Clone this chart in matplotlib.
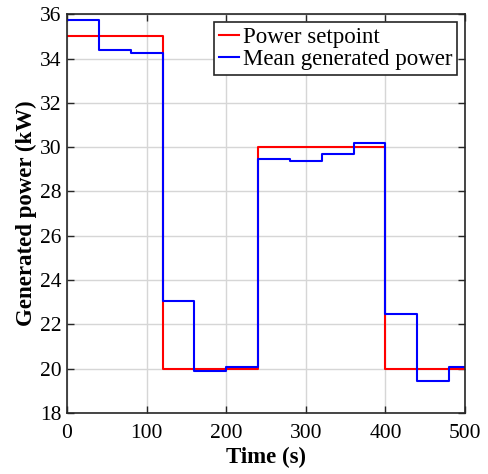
import numpy as np
import matplotlib
matplotlib.use("Agg")
import matplotlib.pyplot as plt

# Setpoint (step changes)
setpoint_t = [0, 120, 240, 400, 500]
setpoint_p = [35, 20, 30, 20, 20]

# Mean generated power over 40 s windows
mean_t = [0, 40, 80, 120, 160, 200, 240, 280, 320, 360, 400, 440, 480, 500]
mean_p = [35.75, 34.4, 34.25, 23.05, 19.88, 20.09, 29.45, 29.37, 29.67, 30.17,
          22.48, 19.45, 20.05, 20.05]

plt.rcParams['font.family'] = ['Liberation Serif', 'DejaVu Serif']

fig = plt.figure(figsize=(4.89, 4.74), dpi=100)
ax = fig.add_axes([0.137, 0.129, 0.814, 0.841])

ax.step(setpoint_t, setpoint_p, where='post', color='#ff0000', lw=1.5,
        label='Power setpoint')
ax.step(mean_t, mean_p, where='post', color='#0000ff', lw=1.5,
        label='Mean generated power')

ax.set_xlim(0, 500)
ax.set_ylim(18, 36)
ax.set_xticks(np.arange(0, 501, 100))
ax.set_yticks(np.arange(18, 37, 2))
ax.grid(True, color='#d6d6d6', lw=1)
ax.set_axisbelow(True)
ax.tick_params(direction='in', top=True, right=True, labelsize=15.5,
               length=5, width=1, colors='#262626')
ax.tick_params(axis='x', pad=8)
ax.tick_params(axis='y', pad=4)
for label in ax.get_xticklabels() + ax.get_yticklabels():
    label.set_color('black')
for s in ax.spines.values():
    s.set_color('#262626')
    s.set_linewidth(1.2)

ax.set_xlabel('Time (s)', fontsize=16.5, fontweight='bold', labelpad=3)
ax.set_ylabel('Generated power (kW)', fontsize=16.5, fontweight='bold', labelpad=2)

leg = ax.legend(loc='upper right', fontsize=16.5, handlelength=0.9,
                handletextpad=0.15, borderpad=0.2, labelspacing=0.05,
                borderaxespad=0.35, fancybox=False, framealpha=1)
leg.get_frame().set_edgecolor('#262626')
leg.get_frame().set_linewidth(1.2)

fig.savefig('out.png', dpi=100)
